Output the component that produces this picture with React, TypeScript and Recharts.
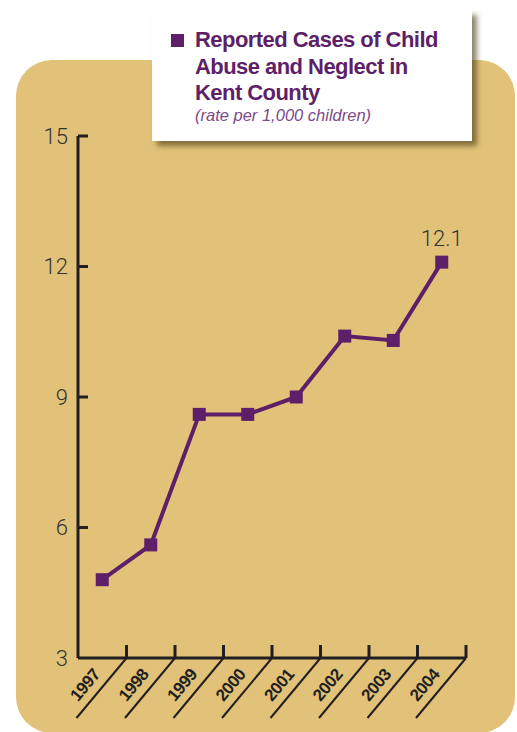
import { LineChart, Line, XAxis, YAxis } from "recharts"

const years = ["1997", "1998", "1999", "2000", "2001", "2002", "2003", "2004"]
const rates = [4.8, 5.6, 8.6, 8.6, 9.0, 10.4, 10.3, 12.1]
const yTicks = [3, 6, 9, 12, 15]

const data = years.map((year, i) => ({ year, rate: rates[i] }))

const PURPLE = "#5e1f69"
const INK = "#231f20"
const TAN = "#e1c278"

const YTick = (props: any) => {
  const { x, y, payload } = props
  return (
    <g>
      {payload.value !== 3 && (
        <line x1={x} x2={x + 10} y1={y} y2={y} stroke={INK} strokeWidth={3} />
      )}
      <text
        x={x - 10}
        y={y}
        textAnchor="end"
        dominantBaseline="central"
        fontFamily="Roboto, 'Liberation Sans', sans-serif"
        fontWeight={300}
        fontSize={22}
        fill="#333"
      >
        {payload.value}
      </text>
    </g>
  )
}

const XTick = (props: any) => {
  const { x, y, payload } = props
  const half = 24.25
  const lx = x - 17
  const ly = y + 27
  return (
    <g>
      <line x1={x + half} x2={x + half} y1={y - 13} y2={y} stroke={INK} strokeWidth={3} />
      <line x1={x + half} y1={y} x2={x - half - 1.5} y2={y + 60} stroke={INK} strokeWidth={2} />
      <text
        x={lx}
        y={ly}
        textAnchor="middle"
        dominantBaseline="central"
        transform={`rotate(-50, ${lx}, ${ly})`}
        fontFamily="'Liberation Sans', Arial, sans-serif"
        fontWeight="bold"
        fontSize={17}
        letterSpacing={-0.5}
        fill={INK}
      >
        {payload.value}
      </text>
    </g>
  )
}

const SquareDot = (props: any) => {
  const { cx, cy } = props
  return <rect x={cx - 6.5} y={cy - 6.5} width={13} height={13} fill={PURPLE} />
}

const LastLabel = (props: any) => {
  const { x, y, value, index } = props
  if (index !== rates.length - 1) return null
  return (
    <text
      x={x}
      y={y - 16}
      textAnchor="middle"
      fontFamily="Roboto, 'Liberation Sans', sans-serif"
      fontWeight={300}
      fontSize={22}
      fill="#333"
    >
      {value}
    </text>
  )
}

export default function App() {
  return (
    <div
      style={{
        position: "absolute",
        left: 0,
        top: 0,
        width: 517,
        height: 732,
        overflow: "hidden",
        background: "#fff",
      }}
    >
      <div
        style={{
          position: "absolute",
          left: 16,
          top: 60,
          width: 499,
          height: 673,
          borderRadius: 36,
          background: TAN,
        }}
      />
      <div style={{ position: "absolute", left: 0, top: 0 }}>
        <LineChart
          width={517}
          height={732}
          data={data}
          margin={{ top: 136, right: 51, bottom: 44, left: 0 }}
        >
          <XAxis
            dataKey="year"
            height={30}
            interval={0}
            padding={{ left: 24.25, right: 24.25 }}
            tickSize={0}
            tickMargin={0}
            tickLine={false}
            axisLine={{ stroke: INK, strokeWidth: 3 }}
            tick={<XTick />}
          />
          <YAxis
            width={78}
            domain={[3, 15]}
            ticks={yTicks}
            interval={0}
            tickSize={0}
            tickMargin={0}
            tickLine={false}
            axisLine={{ stroke: INK, strokeWidth: 3 }}
            tick={<YTick />}
          />
          <Line
            dataKey="rate"
            stroke={PURPLE}
            strokeWidth={4}
            dot={<SquareDot />}
            activeDot={false}
            isAnimationActive={false}
            label={<LastLabel />}
          />
        </LineChart>
      </div>
      <div
        style={{
          position: "absolute",
          left: 152,
          top: 10,
          width: 320,
          height: 131,
          background: "#fff",
          boxShadow: "5px 5px 5px rgba(70,55,20,0.6)",
        }}
      >
        <div
          style={{
            position: "absolute",
            left: 19,
            top: 24,
            width: 12.5,
            height: 12.5,
            background: PURPLE,
          }}
        />
        <div
          style={{
            position: "absolute",
            left: 43,
            top: 17,
            fontFamily: "'Liberation Sans', Arial, sans-serif",
            fontWeight: "bold",
            fontSize: 22,
            letterSpacing: -0.55,
            lineHeight: "26.7px",
            color: PURPLE,
            whiteSpace: "nowrap",
          }}
        >
          Reported Cases of Child
          <br />
          Abuse and Neglect in
          <br />
          Kent County
        </div>
        <div
          style={{
            position: "absolute",
            left: 43,
            top: 96,
            fontFamily: "'Liberation Sans', Arial, sans-serif",
            fontStyle: "italic",
            fontSize: 16.5,
            color: "#7c4a88",
            whiteSpace: "nowrap",
          }}
        >
          (rate per 1,000 children)
        </div>
      </div>
    </div>
  )
}
